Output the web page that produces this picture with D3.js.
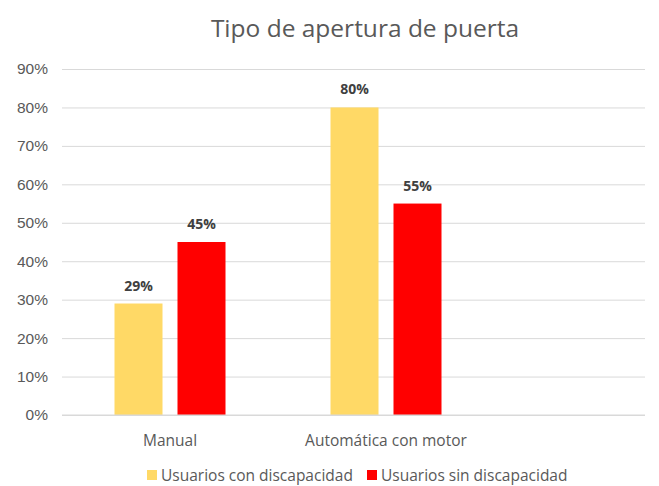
<!DOCTYPE html>
<html>
<head>
<meta charset="utf-8">
<script src="https://cdn.jsdelivr.net/npm/d3@7"></script>
<style>
  body { margin: 0; background: #fff; }
  svg { font-family: "Open Sans", "Noto Sans", sans-serif; }
</style>
</head>
<body>
<div id="chart"></div>
<script>
var categories = ["Manual", "Automática con motor"];
var seriesNames = ["Usuarios con discapacidad", "Usuarios sin discapacidad"];
var conDiscapacidad = [0.29, 0.80];
var sinDiscapacidad = [0.45, 0.55];
var yTicks = [0, 0.1, 0.2, 0.3, 0.4, 0.5, 0.6, 0.7, 0.8, 0.9];

var w = 659, h = 486;
var colors = ["#FFD966", "#FF0000"];
var margin = {left: 62, right: 14, top: 69, bottom: 71};

var svg = d3.select("#chart").append("svg")
    .attr("width", w)
    .attr("height", h);

var y = d3.scaleLinear()
    .domain([0, 0.9])
    .range([h - margin.bottom, margin.top]);

// two category slots, the plot area continues past them to the right
var x = d3.scaleBand()
    .domain(categories)
    .range([margin.left, margin.left + 432])
    .padding(0);

var groupWidth = 111;
var xSub = d3.scaleBand()
    .domain(seriesNames)
    .range([0, groupWidth])
    .paddingInner(0.238);

// title
svg.append("text")
    .attr("x", 365)
    .attr("y", 37)
    .attr("text-anchor", "middle")
    .style("font-size", "24.5px")
    .style("fill", "#595959")
    .text("Tipo de apertura de puerta");

// gridlines + y labels
var yAxis = d3.axisLeft(y)
    .tickValues(yTicks)
    .tickSize(-(w - margin.right - margin.left))
    .tickPadding(14)
    .tickFormat(d3.format(".0%"));

var gy = svg.append("g")
    .attr("transform", "translate(" + margin.left + ",0)")
    .call(yAxis);
gy.select(".domain").remove();
gy.selectAll("line").attr("stroke", "#D9D9D9");
gy.selectAll("text")
    .style("font-size", "15.5px")
    .style("fill", "#595959");

// bars
var rows = categories.map(function(c, i) {
    return {cat: c, values: [conDiscapacidad[i], sinDiscapacidad[i]]};
});

var groups = svg.selectAll(".grp")
    .data(rows)
    .enter().append("g")
    .attr("class", "grp")
    .attr("transform", function(d) {
        return "translate(" + (x(d.cat) + (x.bandwidth() - groupWidth) / 2) + ",0)";
    });

groups.selectAll("rect")
    .data(function(d) {
        return d.values.map(function(v, j) { return {s: seriesNames[j], v: v, j: j}; });
    })
    .enter().append("rect")
    .attr("x", function(d) { return xSub(d.s); })
    .attr("y", function(d) { return y(d.v); })
    .attr("width", xSub.bandwidth())
    .attr("height", function(d) { return y(0) - y(d.v); })
    .attr("fill", function(d) { return colors[d.j]; });

groups.selectAll(".lbl")
    .data(function(d) {
        return d.values.map(function(v, j) { return {s: seriesNames[j], v: v}; });
    })
    .enter().append("text")
    .attr("class", "lbl")
    .attr("x", function(d) { return xSub(d.s) + xSub.bandwidth() / 2; })
    .attr("y", function(d) { return y(d.v) - 13; })
    .attr("text-anchor", "middle")
    .style("font-size", "14px")
    .style("font-weight", "bold")
    .style("fill", "#404040")
    .text(function(d) { return d3.format(".0%")(d.v); });

// x axis line + category labels
svg.append("line")
    .attr("x1", margin.left)
    .attr("x2", w - margin.right)
    .attr("y1", y(0))
    .attr("y2", y(0))
    .attr("stroke", "#D9D9D9");

svg.selectAll(".cat")
    .data(categories)
    .enter().append("text")
    .attr("class", "cat")
    .attr("x", function(d) { return x(d) + x.bandwidth() / 2; })
    .attr("y", y(0) + 31)
    .attr("text-anchor", "middle")
    .style("font-size", "15.5px")
    .style("fill", "#595959")
    .text(function(d) { return d; });

// legend
var legendX = [147, 367];
var legend = svg.selectAll(".leg")
    .data(seriesNames)
    .enter().append("g")
    .attr("class", "leg")
    .attr("transform", function(d, i) { return "translate(" + legendX[i] + ",470)"; });

legend.append("rect")
    .attr("width", 10)
    .attr("height", 10)
    .attr("fill", function(d, i) { return colors[i]; });

legend.append("text")
    .attr("x", 14)
    .attr("y", 10.5)
    .style("font-size", "15.5px")
    .style("fill", "#595959")
    .text(function(d) { return d; });
</script>
</body>
</html>
